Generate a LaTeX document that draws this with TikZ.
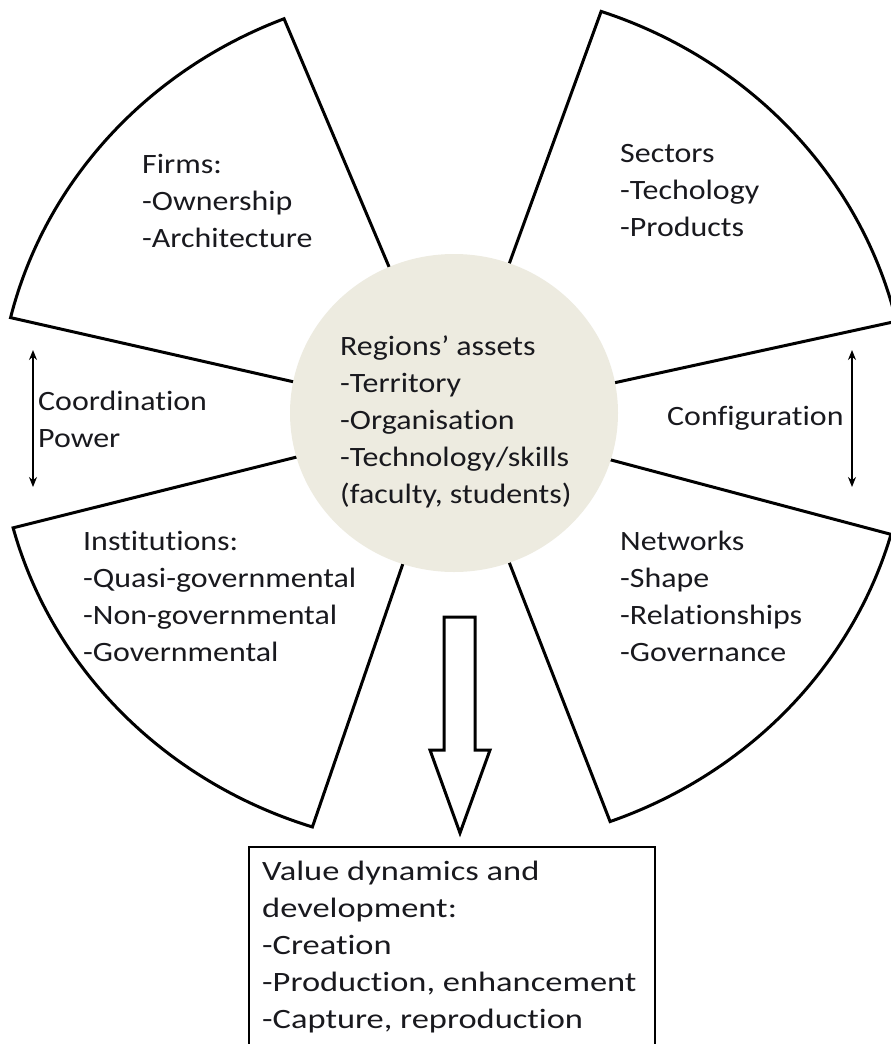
\documentclass[tikz,border=0pt]{standalone}
\usepackage{fontspec}
\setmainfont[FakeStretch=1.14,Ligatures=NoCommon]{Carlito}
\newfontfamily\boxfont[FakeStretch=1.23,Ligatures=NoCommon]{Carlito}
\usetikzlibrary{arrows.meta,positioning,shapes.geometric}
\definecolor{hubfill}{RGB}{237,235,224}
\definecolor{inkcol}{RGB}{25,25,30}

\begin{document}
\begin{tikzpicture}[x=1pt,y=1pt,>={Stealth[length=10pt,width=8pt]},
    sector/.style={draw,line width=3pt,fill=white},
    hub/.style={ellipse,fill=hubfill,minimum width=328pt,minimum height=318pt,inner sep=0pt},
    txt/.style={font=\fontsize{28}{37}\selectfont,text=inkcol,align=left,inner sep=0pt,anchor=north west},
    dbl/.style={<->,line width=1.4pt},
    blockarrow/.style={draw,line width=3pt,fill=white,line join=miter},
    valuebox/.style={draw,line width=1.5pt,anchor=north west,minimum width=406pt,minimum height=240pt,inner sep=0pt}]

  \useasboundingbox (0,0) rectangle (891,-1044);
  \clip (0,0) rectangle (891,-1044);

  \coordinate (C) at (453,-418);

  % sectors round the hub
  \draw[sector] (C) -- ++(111.8:455 and 430) arc[start angle=111.8,end angle=166.5,x radius=455,y radius=430] -- cycle;
  \draw[sector] (C) -- ++(13:455 and 430) arc[start angle=13,end angle=71,x radius=455,y radius=430] -- cycle;
  \draw[sector] (C) -- ++(-69.8:455 and 430) arc[start angle=-69.8,end angle=-15.7,x radius=455,y radius=430] -- cycle;
  \draw[sector] (C) -- ++(194.8:455 and 430) arc[start angle=194.8,end angle=252,x radius=455,y radius=430] -- cycle;

  \node[hub] (hub) at (454,-413) {};

  \node[txt] (firms) at (142,-154) {Firms:\\-Ownership\\-Architecture};
  \node[txt] (sectors) at (620,-144) {Sectors\\-Techology\\-Products};
  \node[txt] (assets) at (340,-336) {Regions’ assets\\-Territory\\-Organisation\\-Technology/skills\\(faculty, students)};
  \node[txt] (coord) at (38,-391) {Coordination\\Power};
  \node[txt] (config) at (667,-406) {Configuration};
  \node[txt] (inst) at (83,-531) {Institutions:\\-Quasi-governmental\\-Non-governmental\\-Governmental};
  \node[txt] (netw) at (620,-531) {Networks\\-Shape\\-Relationships\\-Governance};

  % double arrows at the sides
  \coordinate (cotop) at (33,-350);
  \coordinate (cobot) at (33,-487);
  \coordinate (cftop) at (852,-350);
  \coordinate (cfbot) at (852,-487);
  \draw[dbl] (cotop) -- (cobot);
  \draw[dbl] (cftop) -- (cfbot);

  % outcome
  \coordinate (shaft) at (444,-617);
  \draw[blockarrow] (shaft) -- ++(31,0) -- ++(0,-133) -- ++(15,0) -- (460,-833) -- (430,-750) -- ++(14,0) -- cycle;

  \node[valuebox] (vbox) at (248,-846) {};
  \node[txt,font=\boxfont\fontsize{28}{37}\selectfont] (value) at ([shift={(14,-15)}]vbox.north west) {Value dynamics and\\development:\\-Creation\\-Production, enhancement\\-Capture, reproduction};

\end{tikzpicture}
\end{document}
